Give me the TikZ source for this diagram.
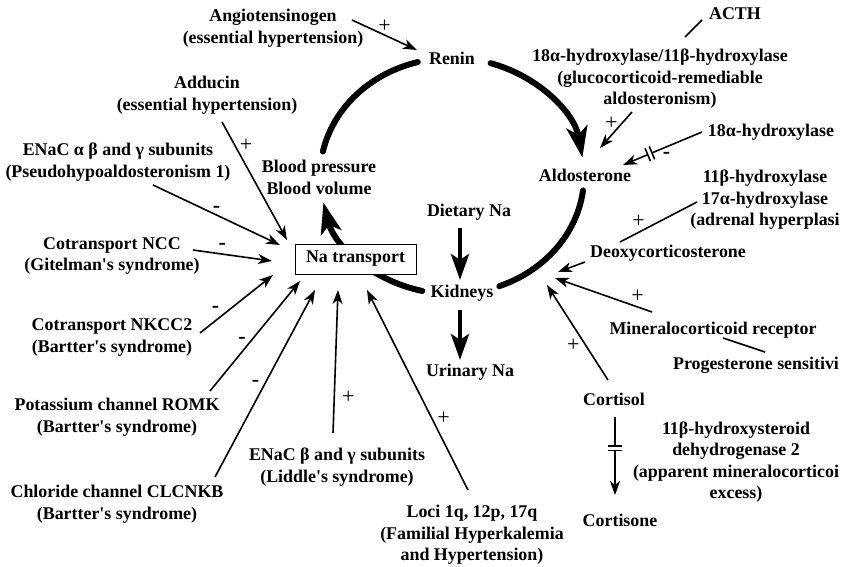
\documentclass[tikz,border=0pt]{standalone}
\usepackage{fontspec}
\setmainfont{Liberation Serif}
\usetikzlibrary{arrows.meta}

\newcommand{\apos}{\textquotesingle}
\newcommand{\bars}{\rule[-7pt]{1.6pt}{14pt}\hspace{3pt}\rule[-7pt]{1.6pt}{14pt}}

\begin{document}
\begin{tikzpicture}[x=1pt, y=1pt,
    every node/.style={font=\fontsize{17.9}{21.5}\selectfont\bfseries,
                       inner sep=0pt, align=center},
    loopline/.style={line width=6pt, line cap=round},
    feed/.style={line width=1.6pt, -{Stealth[length=14pt, width=10pt, inset=4pt]}},
    link/.style={line width=1.6pt},
    flow/.style={line width=4.5pt, -{Stealth[length=26pt, width=18pt, inset=6pt]}},
    sign/.style={inner sep=2pt, font=\fontsize{22}{24}\selectfont},
    blockmark/.style={sloped, fill=white}]
  \useasboundingbox (0,0) rectangle (841,-566);
  \coordinate (loop) at (452,-176);

  % renin -> aldosterone -> kidneys -> blood pressure loop
  \draw[loopline] ([shift={(105:132 and 118)}]loop)
    arc[start angle=105, end angle=168, x radius=132, y radius=118];
  \draw[loopline, -{Stealth[length=31pt, width=21pt, inset=8pt]}] ([shift={(73:132 and 118)}]loop)
    arc[start angle=73, end angle=9, x radius=132, y radius=118];
  \draw[loopline] ([shift={(-7:132 and 118)}]loop)
    arc[start angle=-7, end angle=-69, x radius=132, y radius=118];
  \draw[loopline, -{Stealth[length=31pt, width=21pt, inset=8pt]}] ([shift={(257:132 and 118)}]loop)
    arc[start angle=257, end angle=193, x radius=132, y radius=118];

  % hormones and sodium balance
  \node (angio) at (273,-28) {Angiotensinogen\\(essential hypertension)};
  \node (renin) at (452,-58) {Renin};
  \node (acth) at (735,-14) {ACTH};
  \node (gra) at (660,-79) {18α-hydroxylase/11β-hydroxylase\\(glucocorticoid-remediable\\aldosteronism)};
  \node (hyd) at (771,-132) {18α-hydroxylase};
  \node (aldo) at (585,-175) {Aldosterone};
  \node (adh) at (765,-200) {11β-hydroxylase\\17α-hydroxylase\\(adrenal hyperplasi};
  \node (doc) at (668,-253) {Deoxycorticosterone};
  \node (mr) at (713,-330) {Mineralocorticoid receptor};
  \node (prog) at (756,-365) {Progesterone sensitivi};
  \node (cortisol) at (614,-399) {Cortisol};
  \node (hsd) at (736,-462) {11β-hydroxysteroid\\dehydrogenase 2\\(apparent mineralocorticoi\\excess)};
  \node (cortisone) at (620,-520) {Cortisone};
  \node (diet) at (469,-212) {Dietary Na};
  \node (kid) at (462,-293) {Kidneys};
  \node (urin) at (470,-372) {Urinary Na};
  \node (bp) at (319,-177.5) {Blood pressure\\Blood volume};
  \node[draw, fill=white, line width=0.8pt, minimum width=121pt, minimum height=30pt]
    (natr) at (355.5,-259) {Na transport};

  % transporters and channels
  \node (adducin) at (207,-95) {Adducin\\(essential hypertension)};
  \node (enac) at (118,-162) {ENaC α β and γ subunits\\(Pseudohypoaldosteronism 1)};
  \node (ncc) at (112,-256) {Cotransport NCC\\(Gitelman\apos s syndrome)};
  \node (nkcc) at (112,-337.5) {Cotransport NKCC2\\(Bartter\apos s syndrome)};
  \node (romk) at (117,-417) {Potassium channel ROMK\\(Bartter\apos s syndrome)};
  \node (clc) at (117,-504) {Chloride channel CLCNKB\\(Bartter\apos s syndrome)};
  \node (liddle) at (337,-467) {ENaC β and γ subunits\\(Liddle\apos s syndrome)};
  \node (loci) at (472,-535) {Loci 1q, 12p, 17q\\(Familial Hyperkalemia\\and Hypertension)};

  \draw[flow] ([shift={(-9,-16)}]diet.center) -- ([shift={(-2,13)}]kid.center);
  \draw[flow] ([shift={(-2,-17)}]kid.center) -- ([shift={(-10,12)}]urin.center);

  % right side
  \draw[feed] ([shift={(79,8)}]angio.center) -- node[sign, above] {+} ([shift={(-35,8)}]renin.center);
  \draw[link] ([shift={(25,42)}]gra.center) -- ([shift={(-33,-6)}]acth.center);
  \draw[feed] ([shift={(-28,-33)}]gra.center) -- node[sign, pos=0.3, left=2pt] {+} ([shift={(15,27)}]aldo.center);
  \draw[feed] ([shift={(-69,0)}]hyd.center) -- node[blockmark, pos=0.66] {\bars}
    node[sign, pos=0.45, below=3pt] {\bfseries -} ([shift={(38,10)}]aldo.center);
  \draw[link] ([shift={(-68,-2)}]adh.center) -- node[sign, pos=0.76, above=2pt] {+} ([shift={(-48,11)}]doc.center);
  \draw[feed] ([shift={(-83,-9)}]doc.center) -- ([shift={(96,21)}]kid.center);
  \draw[feed] ([shift={(-61,18)}]mr.center) -- node[sign, pos=0.15, above=2pt] {+} ([shift={(93,15)}]kid.center);
  \draw[link] ([shift={(10,-8)}]mr.center) -- ([shift={(9,13)}]prog.center);
  \draw[feed] ([shift={(-6,19)}]cortisol.center) -- node[sign, pos=0.37, left=3pt] {+} ([shift={(85,8)}]kid.center);
  \draw[feed] ([shift={(1,-18)}]cortisol.center) -- node[blockmark, pos=0.4] {\bars} ([shift={(-5,25)}]cortisone.center);

  % left side
  \draw[feed] ([shift={(15,-27)}]adducin.center) -- node[sign, pos=0.2, right=2pt] {+} ([shift={(-68.5,19)}]natr.center);
  \draw[feed] ([shift={(35,-23)}]enac.center) -- node[sign, pos=0.5, above] {\bfseries -} ([shift={(-75.5,14)}]natr.center);
  \draw[feed] ([shift={(81,6)}]ncc.center) -- node[sign, pos=0.37, above=2pt] {\bfseries -} ([shift={(-83.5,-2)}]natr.center);
  \draw[feed] ([shift={(88,4.5)}]nkcc.center) -- node[sign, pos=0.3, above left] {\bfseries -} ([shift={(-82.5,-16)}]natr.center);
  \draw[feed] ([shift={(93,26)}]romk.center) -- node[sign, pos=0.46, left=3pt] {\bfseries -} ([shift={(-55.5,-22)}]natr.center);
  \draw[feed] ([shift={(98,27)}]clc.center) -- node[sign, pos=0.5, left=3pt] {\bfseries -} ([shift={(-40.5,-31)}]natr.center);
  \draw[feed] ([shift={(-4,34)}]liddle.center) -- node[sign, pos=0.25, right=5pt] {+} ([shift={(-17.5,-31)}]natr.center);
  \draw[feed] ([shift={(-4,45)}]loci.center) -- node[sign, pos=0.36, right=3pt] {+} ([shift={(11.5,-31)}]natr.center);
\end{tikzpicture}
\end{document}
